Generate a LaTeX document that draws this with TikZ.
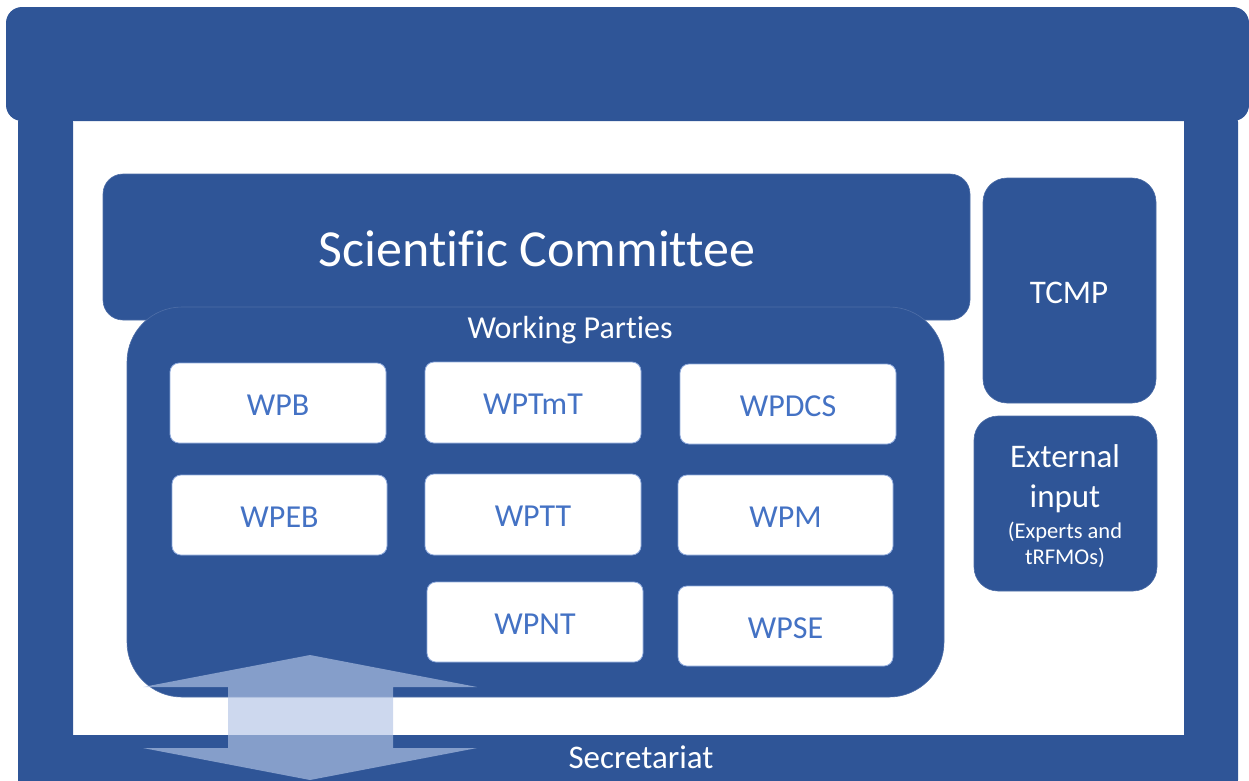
\documentclass[tikz,border=0pt]{standalone}
\usepackage{fontspec}
\setmainfont{Carlito}[Ligatures={NoCommon}]
\definecolor{navy}{RGB}{47,85,151}
\definecolor{wpline}{RGB}{143,170,220}
\definecolor{wptext}{RGB}{68,114,196}
\definecolor{arrowc}{RGB}{179,196,229}
\begin{document}
\begin{tikzpicture}[x=1pt,y=-1pt,
  frame/.style={fill=navy,draw=none},
  bigbox/.style={fill=navy,draw=navy!85!white,line width=0.6pt},
  wpbox/.style={fill=white,draw=wpline,line width=0.8pt,rounded corners=9pt},
  wptxt/.style={text=wptext,font=\fontsize{32}{38}\selectfont,yshift=-2pt},
  whitetxt/.style={text=white,font=\fontsize{33}{40}\selectfont}]
\useasboundingbox (0,0) rectangle (1249,780);
% frame
\fill[frame,rounded corners=10pt] (18,112) rectangle (73,790);
\fill[frame,rounded corners=10pt] (1184,112) rectangle (1238,790);
\fill[frame] (18,735) rectangle (1238,790);
\fill[frame,rounded corners=16pt] (6,7) rectangle (1249,121);
% Scientific Committee
\path[bigbox,rounded corners=20pt] (103,174) rectangle (970,320);
\node[text=white,font=\fontsize{52}{60}\selectfont] (sc) at (537,249) {Scientific Committee};
% Working Parties
\path[bigbox,rounded corners=55pt] (127,307) rectangle (944,697);
\node[text=white,font=\fontsize{32}{38}\selectfont] (wp) at (570,330) {Working Parties};
% WP boxes
\draw[wpbox] (170,363) rectangle (386,443) node[midway,wptxt] (wpb) {WPB};
\draw[wpbox] (425,362) rectangle (641,443) node[midway,wptxt] (wptmt) {WPTmT};
\draw[wpbox] (680,364) rectangle (896,444) node[midway,wptxt] (wpdcs) {WPDCS};
\draw[wpbox] (172,475) rectangle (387,555) node[midway,wptxt] (wpeb) {WPEB};
\draw[wpbox] (425,474) rectangle (641,555) node[midway,wptxt] (wptt) {WPTT};
\draw[wpbox] (678,475) rectangle (893,555) node[midway,wptxt] (wpm) {WPM};
\draw[wpbox] (427,582) rectangle (643,662) node[midway,wptxt] (wpnt) {WPNT};
\draw[wpbox] (678,586) rectangle (893,666) node[midway,wptxt] (wpse) {WPSE};
% TCMP
\path[bigbox,rounded corners=24pt] (983,178) rectangle (1156,403);
\node[whitetxt] (tcmp) at (1069,293) {TCMP};
% External input
\path[bigbox,rounded corners=24pt] (974,416) rectangle (1157,591);
\node[whitetxt,align=center] (ext) at (1065,479) {External\\input};
\node[text=white,font=\fontsize{22.5}{26}\selectfont,align=center] (extsub) at (1065,545) {(Experts and\\tRFMOs)};
% Secretariat
\node[whitetxt] (sec) at (641,757) {Secretariat};
% double arrow
\fill[arrowc,fill opacity=0.66] (310,655) -- (477,687) -- (393,687) -- (393,748) -- (477,748) -- (310,780) -- (143,748) -- (228,748) -- (228,687) -- (143,687) -- cycle;
\end{tikzpicture}
\end{document}
